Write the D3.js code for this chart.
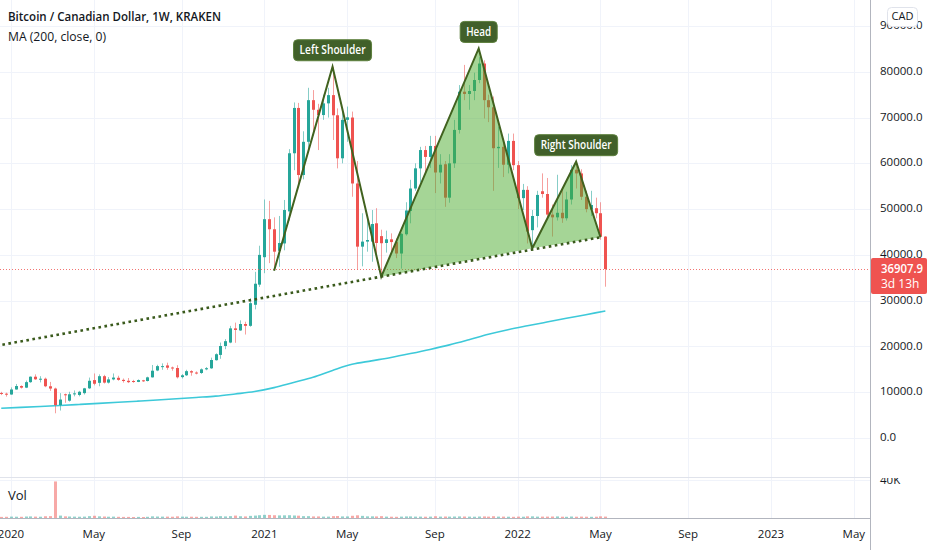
<!DOCTYPE html>
<html><head><meta charset="utf-8">
<script src="https://cdn.jsdelivr.net/npm/d3@7"></script>
<style>
html,body{margin:0;padding:0;background:#fff;}
svg{display:block;font-family:"Open Sans","Noto Sans",sans-serif;}
</style></head><body>
<svg id="chart" width="932" height="550"></svg>
<script>
// ---------------- DATA ----------------
const title = "Bitcoin / Canadian Dollar, 1W, KRAKEN";
const maTitle = "MA (200, close, 0)";
const firstWeek = "2019-12-23"; // weekly bars, one per Monday
const open = [9840,9680,9500,10600,11350,11000,12200,13390,12820,12950,11300,10800,7200,9550,8150,9550,9400,9800,10850,12650,
12050,13500,12100,12800,13150,12700,12500,12450,12250,12600,12450,13250,14750,15500,15850,15400,15290,13300,13700,14600,
14300,14200,15000,15220,17000,18150,20100,20850,23950,23500,24900,24500,29100,33500,39500,47800,45600,40900,42500,49500,
62200,72100,57450,64700,73800,71700,70550,73100,74900,70500,61100,69500,70000,55600,41800,42900,42900,46900,44100,42600,
43400,42800,40300,44500,49600,54500,58900,62900,61400,63800,58000,59800,52500,60000,67300,75650,75150,75800,78200,81800,
73800,72250,63300,63600,59700,64900,59600,52400,54200,45400,48500,53900,53300,48800,48200,49200,48000,52100,58600,57800,
52700,49900,50200,49100,44000];
const high = [10090,9900,11050,11800,11500,12550,13450,13900,13500,13200,12250,11000,9800,9700,10100,10400,10300,10950,13200,14100,
13900,13800,13300,14100,13600,13000,13100,12700,12800,12700,13400,15950,16000,16300,16450,15600,15900,13950,14900,14800,
14550,15200,15500,17550,18500,20850,21600,24500,25200,25700,25400,30500,36300,42000,52100,51800,48200,48500,52000,63100,
73300,73200,67000,76500,76000,73000,75000,76500,81100,72000,71500,72400,71300,60500,49100,47600,49800,50200,45500,45300,
44700,43600,44800,51500,56400,60000,63600,63800,66000,66000,62000,60500,62000,69500,77100,81500,77100,79800,83200,82500,
75000,74600,68000,65000,66500,66500,60500,55500,55000,49800,54000,57800,56800,51000,57500,54200,53800,59600,60300,58700,
54000,54000,52500,51500,44100];
const low = [9370,9040,9450,10550,10800,10900,12050,12700,12150,11100,10300,5400,6000,7700,7950,9100,9100,9500,10700,11500,
11300,11900,11900,12600,12500,12100,12000,12050,12200,12250,12350,13200,14600,14900,14900,14700,13000,13000,13550,13600,
13900,14000,14800,15100,16900,17300,19400,20700,20800,23400,22600,24300,28100,33000,36000,38200,36700,37400,41000,47500,
58500,54900,56500,62500,66500,62900,69500,70000,65100,58900,60000,64700,52700,36850,37500,40700,38500,40400,35250,40500,
40300,39300,37000,44200,46900,54000,55800,58000,59000,53500,55600,50500,51400,59000,66500,73800,71700,73800,77500,69800,
69000,54000,59000,57000,57800,58500,50000,49800,42500,41500,46000,52500,48000,44000,47500,47000,47500,51000,54500,52000,
49300,48500,48000,43300,33050];
const close = [9680,9500,10600,11350,11000,12200,13390,12820,12950,11300,10800,7200,8400,9350,9550,9750,10100,10850,12500,11850,
13500,12100,12800,13200,12700,12450,12200,12250,12650,12450,13250,14700,15700,15700,15350,15250,13260,13700,14600,14300,
14150,15000,15250,17040,18300,20100,21150,23950,23600,24900,24500,29450,33700,40000,47800,45600,40700,42600,49800,62200,
72100,57450,64700,73800,71700,70550,73100,74900,70500,61100,69500,70050,55600,41800,42900,43250,46750,42600,42550,43400,
42800,40300,44600,49700,54500,58900,62900,61400,63800,58000,59700,52500,60000,67300,75650,75150,75800,78200,81800,73800,
72250,63300,63600,59700,64900,59600,52400,54200,45100,48500,53100,53300,48800,48200,49200,48000,52100,58600,57800,52700,
50000,50900,49100,44000,36907.9];
const volume = [1200,1300,1500,1400,1300,1600,1700,1500,1400,1900,2000,39500,2600,1800,1600,1500,1400,1500,2000,2400,
1800,1600,1400,1500,1300,1200,1200,1100,1200,1100,1300,1800,1600,1500,1500,1400,1800,1500,1400,1400,
1300,1300,1300,1700,1600,2000,1700,2000,2600,1900,1700,2300,2600,3000,3400,3300,3000,2800,2900,3000,
2700,2500,2000,2000,1700,1700,1500,1500,2000,2100,1700,1700,2400,2900,2300,1800,1800,1700,2000,1500,
1400,1300,1500,1700,1700,1500,1500,1400,1500,1900,1500,1600,1500,1600,1700,1600,1500,1400,1600,1700,
1500,1900,1500,1500,1400,1300,1500,1400,1800,1800,1500,1500,1500,1600,1700,1400,1300,1600,1400,1500,
1400,1300,1400,1800,1500];
// 200-week moving average, sampled every 4th weekly bar from firstWeek
const maStep = 4;
const maValues = [6500,6690,6880,7090,7330,7570,7810,8050,8290,8570,8860,9150,9620,10140,11000,12140,
13280,14760,16090,16850,17600,18450,19350,20340,21470,22650,23650,24510,25330,26140,26940,27740];
const priceTicks = [0,10000,20000,30000,40000,50000,60000,70000,80000,90000];
const timeTickDates = ["2020-01-06","2020-05-04","2020-09-07","2021-01-04","2021-05-03","2021-09-06",
  "2022-01-03","2022-05-02","2022-09-05","2023-01-02","2023-05-01"];
const timeTickLabels = ["2020","May","Sep","2021","May","Sep","2022","May","Sep","2023","May"];
// Head & shoulders pattern points A..G
const patternDates = ["2021-01-18","2021-04-12","2021-06-21","2021-11-08","2022-01-24","2022-03-28","2022-05-02"];
const patternPrices = [36550,81100,35240,85100,41450,60360,43840];
const necklineStart = {date:"2019-12-16", price:20150};
const patternLabelText = ["Left Shoulder","Head","Right Shoulder"];
const patternLabelPoint = [1,3,5];
const volumeTickLabel = "40K";
const currency = "CAD";
const countdown = "3d 13h";

// ---------------- LAYOUT ----------------
const W = 932, H = 550;
const paneRight = 870, mainBottom = 477, volTop = 478, volBottom = 518;
const parse = d3.utcParse("%Y-%m-%d");
const up = "#26a69a", down = "#ef5350";
const svg = d3.select("#chart");

function fitWidth(sel, target){
  const w = sel.node().getComputedTextLength();
  if (w > target) sel.attr("textLength", target).attr("lengthAdjust","spacingAndGlyphs");
  return sel;
}

const x = d3.scaleUtc().domain([parse("2020-01-06"), parse("2023-01-02")]).range([11, 771]);
const y = d3.scaleLinear().domain([0, 90000]).range([438, 26]);
const yv = d3.scaleLinear().domain([0, 40000]).range([volBottom, 481]);

const start = parse(firstWeek);
const dates = d3.utcMonday.range(start, d3.utcDay.offset(start, 7*open.length));
const bars = dates.map((d,i)=>({d, o:open[i], h:high[i], l:low[i], c:close[i], v:volume[i]}));

const defs = svg.append("defs");
defs.append("clipPath").attr("id","mainClip").append("rect").attr("x",0).attr("y",0).attr("width",paneRight).attr("height",mainBottom);
defs.append("clipPath").attr("id","volClip").append("rect").attr("x",0).attr("y",volTop).attr("width",paneRight).attr("height",volBottom-volTop);
defs.append("clipPath").attr("id","volAxisClip").append("rect").attr("x",paneRight).attr("y",volTop).attr("width",W-paneRight).attr("height",volBottom-volTop);

// grid
const grid = svg.append("g");
const tDates = timeTickDates.map(parse);
grid.selectAll("line.v").data(tDates).join("line")
  .attr("x1",d=>Math.round(x(d))+0.5).attr("x2",d=>Math.round(x(d))+0.5)
  .attr("y1",0).attr("y2",volBottom).attr("stroke","#f0f3fa").attr("stroke-width",1);
grid.selectAll("line.h").data(priceTicks).join("line")
  .attr("x1",0).attr("x2",paneRight).attr("y1",d=>Math.round(y(d))+0.5).attr("y2",d=>Math.round(y(d))+0.5)
  .attr("stroke","#f0f3fa");
grid.append("line").attr("x1",0).attr("x2",paneRight).attr("y1",480.5).attr("y2",480.5).attr("stroke","#f0f3fa");

// main pane
const main = svg.append("g").attr("clip-path","url(#mainClip)");

// MA line
const maPts = maValues.map((v,i)=>({d:dates[i*maStep], v}));
main.append("path").datum(maPts)
  .attr("d", d3.line().x(p=>x(p.d)).y(p=>y(p.v)).curve(d3.curveMonotoneX))
  .attr("fill","none").attr("stroke","#3dc9d9").attr("stroke-width",1.6);

// candles
const cg = main.append("g");
bars.forEach(b=>{
  const cx = Math.round(x(b.d));
  const col = b.c >= b.o ? up : down;
  cg.append("line").attr("x1",cx+0.5).attr("x2",cx+0.5).attr("y1",y(b.h)).attr("y2",y(b.l))
    .attr("stroke",col).attr("stroke-width",1).attr("opacity",0.55);
  const top = y(Math.max(b.o,b.c)), bot = y(Math.min(b.o,b.c));
  cg.append("rect").attr("x",cx-1).attr("width",3).attr("y",top).attr("height",Math.max(1,bot-top)).attr("fill",col);
});

// last price line
const lastBar = bars[bars.length-1];
main.append("line").attr("x1",0).attr("x2",paneRight).attr("y1",Math.round(y(lastBar.c))+0.5).attr("y2",Math.round(y(lastBar.c))+0.5)
  .attr("stroke",down).attr("stroke-width",1).attr("stroke-dasharray","1 2").attr("opacity",0.8);

// pattern
const P = patternDates.map((d,i)=>({x:x(parse(d)), y:y(patternPrices[i])}));
const fillCol = "rgba(75,171,45,0.5)", lineCol = "#41621f";
main.append("path").attr("d", d3.line()([[P[2].x,P[2].y],[P[3].x,P[3].y],[P[4].x,P[4].y]])+"Z").attr("fill",fillCol);
main.append("path").attr("d", d3.line()([[P[4].x,P[4].y],[P[5].x,P[5].y],[P[6].x,P[6].y]])+"Z").attr("fill",fillCol);
main.append("path").attr("d", d3.line()(P.map(p=>[p.x,p.y])))
  .attr("fill","none").attr("stroke",lineCol).attr("stroke-width",2).attr("stroke-linejoin","miter");
main.append("line").attr("x1",x(parse(necklineStart.date))).attr("y1",y(necklineStart.price))
  .attr("x2",P[6].x).attr("y2",P[6].y)
  .attr("stroke","#3a5a1c").attr("stroke-width",2.6).attr("stroke-dasharray","2.6 3.5");

// labels
const labelTextWidth = [66, 25, 71];
patternLabelText.forEach((t,i)=>{
  const p = P[patternLabelPoint[i]];
  const g = main.append("g");
  const txt = g.append("text").attr("x",p.x).attr("y",p.y-16).attr("text-anchor","middle")
    .attr("dominant-baseline","middle").attr("fill","#fff").attr("font-size",12).attr("font-weight",600).text(t);
  fitWidth(txt, labelTextWidth[i]);
  const w = labelTextWidth[i]+12;
  g.insert("rect","text").attr("x",p.x-w/2).attr("y",p.y-27).attr("width",w).attr("height",21).attr("rx",4)
    .attr("fill","#41602a").attr("stroke","#5c7f3c").attr("stroke-width",1);
});

// volume
const vg = svg.append("g").attr("clip-path","url(#volClip)");
bars.forEach(b=>{
  const cx = Math.round(x(b.d));
  const col = b.c >= b.o ? up : down;
  vg.append("rect").attr("x",cx-1).attr("width",3).attr("y",yv(b.v)).attr("height",volBottom-yv(b.v))
    .attr("fill",col).attr("opacity",0.5);
});

// pane separators & axes lines
svg.append("line").attr("x1",0).attr("x2",paneRight).attr("y1",477.5).attr("y2",477.5).attr("stroke","#e0e3eb");
svg.append("line").attr("x1",0).attr("x2",paneRight+1).attr("y1",volBottom+0.5).attr("y2",volBottom+0.5).attr("stroke","#b2b5be");
svg.append("line").attr("x1",paneRight+0.5).attr("x2",paneRight+0.5).attr("y1",0).attr("y2",H).attr("stroke","#b2b5be");

// price axis labels
const ax = svg.append("g").attr("font-size",11.5).attr("fill","#131722");
ax.selectAll("text.p").data(priceTicks).join("text")
  .attr("x",880).attr("y",d=>y(d)).attr("dominant-baseline","middle").text(d=>d3.format(".1f")(d));
svg.append("g").attr("clip-path","url(#volAxisClip)").append("text").attr("x",880).attr("y",481)
  .attr("dominant-baseline","middle").attr("font-size",11.5).attr("fill","#131722").text(volumeTickLabel);

// currency box
svg.append("rect").attr("x",887.5).attr("y",7.5).attr("width",30).attr("height",19).attr("rx",4)
  .attr("fill","#fff").attr("stroke","#e0e3eb");
svg.append("text").attr("x",902.5).attr("y",17.5).attr("text-anchor","middle").attr("dominant-baseline","middle")
  .attr("font-size",11).attr("fill","#131722").text(currency);

// last price tag
const ly = y(lastBar.c);
svg.append("rect").attr("x",871).attr("y",ly-11).attr("width",56).attr("height",36).attr("rx",2).attr("fill",down);
fitWidth(svg.append("text").attr("x",881).attr("y",ly+0.5).attr("dominant-baseline","middle").attr("font-size",12)
  .attr("fill","#fff").attr("font-weight",600).text(d3.format(".1f")(lastBar.c)), 42);
svg.append("text").attr("x",881).attr("y",ly+16).attr("dominant-baseline","middle").attr("font-size",12)
  .attr("fill","#fff").text(countdown);

// time axis labels
svg.append("g").attr("font-size",11.5).attr("fill","#131722").selectAll("text").data(tDates).join("text")
  .attr("x",(d)=>x(d)).attr("y",535).attr("text-anchor","middle").attr("dominant-baseline","middle")
  .text((d,i)=>timeTickLabels[i]);

// legends
fitWidth(svg.append("text").attr("x",8).attr("y",18).attr("font-size",13).attr("font-weight",600).attr("fill","#131722")
  .attr("dominant-baseline","middle").text(title), 213);
fitWidth(svg.append("text").attr("x",8).attr("y",38).attr("font-size",13).attr("fill","#131722")
  .attr("dominant-baseline","middle").text(maTitle), 98);
svg.append("text").attr("x",8).attr("y",497).attr("font-size",13).attr("fill","#131722")
  .attr("dominant-baseline","middle").text("Vol");
</script>
</body></html>
